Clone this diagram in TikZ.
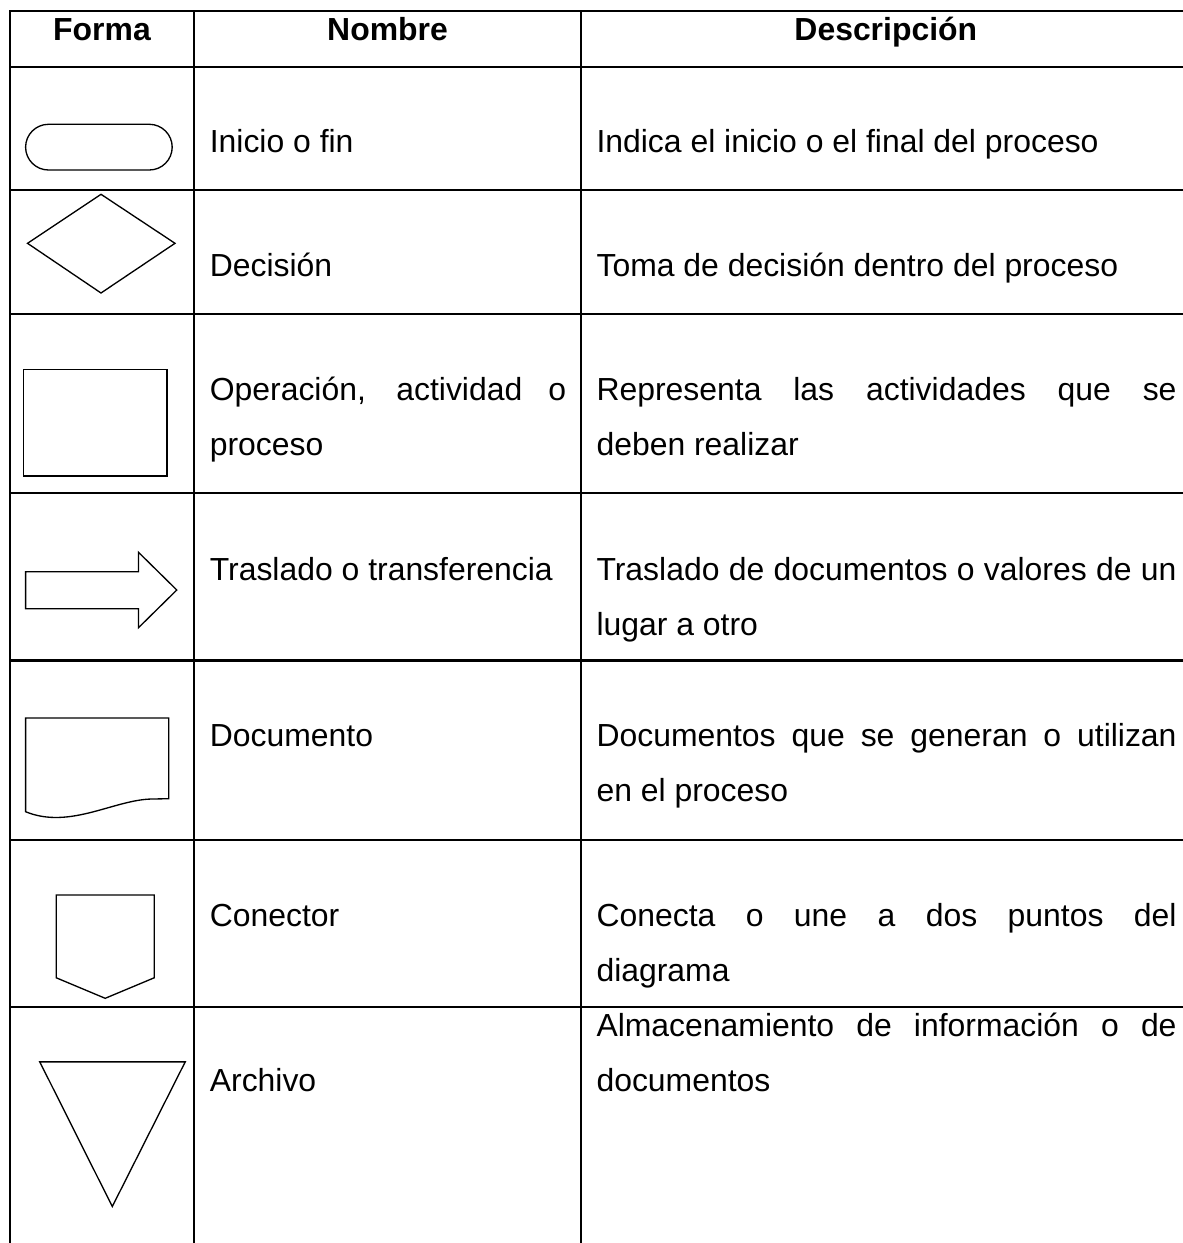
\documentclass[tikz,border=0pt]{standalone}
\usepackage{fontspec}
\setmainfont{Liberation Sans}

\begin{document}
\begin{tikzpicture}[x=0.376pt,y=-0.376pt,
    tabline/.style={line width=0.8pt},
    shapeline/.style={line width=0.5pt},
    headtxt/.style={anchor=base,inner sep=0pt,font=\fontsize{12}{20.7}\selectfont\bfseries},
    nametxt/.style={anchor=base west,inner sep=0pt,text width=134pt,align=justify,
      font=\fontsize{12}{20.7}\selectfont,execute at begin node={\hyphenpenalty=10000}},
    desctxt/.style={nametxt,text width=218.1pt}]
    \useasboundingbox (0,0) rectangle (1183,1243);
    % table grid
    \draw[tabline] (1183,11) -- (10,11) -- (10,1243);
    \foreach \y in {66.7,190,313.7,493.3,660.5,840,1007}{
      \draw[tabline] (10,\y) -- (1183,\y);
    }
    \draw[tabline] (194,11) -- (194,1243);
    \draw[tabline] (581,11) -- (581,1243);
    % header
    \node[headtxt] (hforma) at (102,40.7) {Forma};
    \node[headtxt] (hnombre) at (387.5,40.7) {Nombre};
    \node[headtxt] (hdesc) at (885.8,40.7) {Descripción};
    % shapes
    \draw[shapeline,rounded corners=8.6pt] (25.6,124.3) rectangle (172.2,170);
    \draw[shapeline] (27.5,243.3) -- (101,194.3) -- (175,243.3) -- (101,293) -- cycle;
    \draw[shapeline] (23.7,369.3) rectangle (166.9,476);
    \draw[shapeline] (25.6,571.7) -- (138.5,571.7) -- (138.5,552.3) -- (176.8,590)
      -- (138.5,627.7) -- (138.5,608.7) -- (25.6,608.7) -- cycle;
    \draw[shapeline] (25.6,811.7) -- (25.6,718) -- (168.8,718) -- (168.8,798.7) -- (153,799)
      .. controls (115,799) and (70,830) .. (25.6,811.7) -- cycle;
    \draw[shapeline] (56.3,895) -- (154.2,895) -- (154.2,977.8) -- (105.2,998.3)
      -- (56.3,977.8) -- cycle;
    \draw[shapeline] (39.8,1061.9) -- (185.2,1061.9) -- (112.3,1206.5) -- cycle;
    % names
    \node[nametxt] (ninicio) at (209.3,152.7) {Inicio o fin};
    \node[nametxt] (ndecision) at (209.3,276) {Decisión};
    \node[nametxt] (noper) at (209.3,400) {Operación, actividad o\linebreak proceso};
    \node[nametxt] (ntras) at (209.3,580) {Traslado o transferencia};
    \node[nametxt] (ndoc) at (209.3,746.2) {Documento};
    \node[nametxt] (ncon) at (209.3,926) {Conector};
    \node[nametxt] (narch) at (209.3,1091) {Archivo};
    % descriptions
    \node[desctxt] (dinicio) at (596,152.7) {Indica el inicio o el final del proceso};
    \node[desctxt] (ddecision) at (596,276) {Toma de decisión dentro del proceso};
    \node[desctxt] (doper) at (596,400) {Representa las actividades que se\linebreak deben realizar};
    \node[desctxt] (dtras) at (596,580) {Traslado de documentos o valores de un\linebreak lugar a otro};
    \node[desctxt] (ddoc) at (596,746.2) {Documentos que se generan o utilizan\linebreak en el proceso};
    \node[desctxt] (dcon) at (596,926) {Conecta o une a dos puntos del\linebreak diagrama};
    \node[desctxt] (darch) at (596,1036.6) {Almacenamiento de información o de\linebreak documentos};
\end{tikzpicture}
\end{document}
